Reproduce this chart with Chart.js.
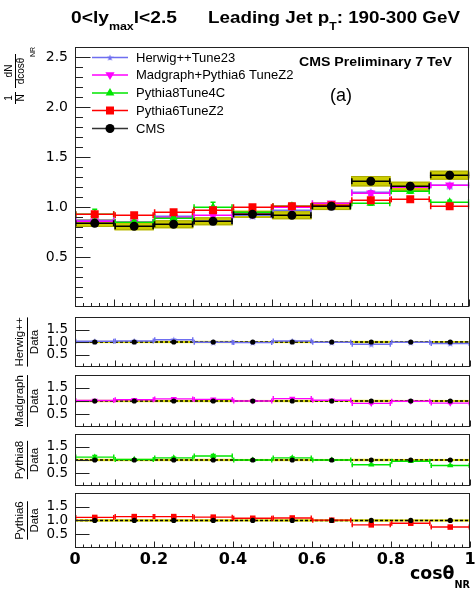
<!DOCTYPE html>
<html><head><meta charset="utf-8">
<script src="https://cdn.jsdelivr.net/npm/chart.js@4/dist/chart.umd.min.js"></script>
<style>
html,body{margin:0;padding:0;background:#fff;}
#wrap{position:relative;width:475px;height:592px;overflow:hidden;background:#fff;}
canvas{position:absolute;left:0;}
</style></head><body>
<div id="wrap">
<canvas id="cMain" width="475" height="313" style="top:0px"></canvas>
<canvas id="cR1" width="475" height="60" style="top:312px"></canvas>
<canvas id="cR2" width="475" height="60" style="top:371px"></canvas>
<canvas id="cR3" width="475" height="60" style="top:430px"></canvas>
<canvas id="cR4" width="475" height="103" style="top:489px"></canvas>
</div>
<script>
// ---------------- data ----------------
const binEdges   = [0, 0.1, 0.2, 0.3, 0.4, 0.5, 0.6, 0.7, 0.8, 0.9, 1.0];
const binCenters = [0.05, 0.15, 0.25, 0.35, 0.45, 0.55, 0.65, 0.75, 0.85, 0.95];

const cmsValues = [0.84, 0.81, 0.83, 0.86, 0.93, 0.92, 1.01, 1.26, 1.21, 1.32];
const cmsStat   = [0.02, 0.02, 0.02, 0.02, 0.02, 0.02, 0.02, 0.03, 0.03, 0.03];
const cmsSyst   = [0.037, 0.04, 0.04, 0.04, 0.035, 0.04, 0.038, 0.052, 0.045, 0.045];

const herwigValues   = [0.87, 0.85, 0.91, 0.86, 0.92, 0.97, 1.01, 1.15, 1.20, 1.22];
const madgraphValues = [0.86, 0.85, 0.90, 0.92, 0.93, 1.00, 1.04, 1.14, 1.20, 1.22];
const pythia8Values  = [0.93, 0.85, 0.89, 1.00, 0.95, 1.01, 1.01, 1.04, 1.16, 1.05];
const pythia6Values  = [0.93, 0.92, 0.95, 0.97, 1.00, 1.01, 1.02, 1.07, 1.08, 1.01];

const herwigErr   = [0.01, 0.01, 0.01, 0.01, 0.01, 0.01, 0.01, 0.015, 0.015, 0.015];
const madgraphErr = [0.01, 0.01, 0.01, 0.015, 0.01, 0.015, 0.01, 0.02, 0.015, 0.015];
const pythia8Err  = [0.05, 0.02, 0.02, 0.05, 0.02, 0.03, 0.02, 0.02, 0.02, 0.02];
const pythia6Err  = [0.01, 0.01, 0.01, 0.01, 0.01, 0.01, 0.01, 0.015, 0.015, 0.015];

const dataRatio      = [1, 1, 1, 1, 1, 1, 1, 1, 1, 1];
const dataRatioBand  = [0.045, 0.045, 0.045, 0.045, 0.04, 0.045, 0.04, 0.045, 0.04, 0.04];
const herwigRatio    = [1.03, 1.04, 1.09, 0.99, 0.98, 1.04, 0.99, 0.91, 0.99, 0.94];
const madgraphRatio  = [1.02, 1.05, 1.08, 1.06, 1.00, 1.09, 1.03, 0.91, 0.99, 0.92];
const pythia8Ratio   = [1.11, 1.02, 1.08, 1.15, 1.00, 1.08, 1.00, 0.82, 0.95, 0.79];
const pythia6Ratio   = [1.11, 1.14, 1.14, 1.12, 1.08, 1.09, 1.01, 0.84, 0.90, 0.76];
const herwigRatioErr   = [0.015, 0.015, 0.015, 0.015, 0.015, 0.015, 0.015, 0.015, 0.015, 0.015];
const madgraphRatioErr = [0.015, 0.015, 0.015, 0.02, 0.015, 0.02, 0.015, 0.02, 0.015, 0.015];
const pythia8RatioErr  = [0.06, 0.025, 0.025, 0.06, 0.025, 0.035, 0.025, 0.025, 0.025, 0.025];
const pythia6RatioErr  = [0.015, 0.015, 0.015, 0.015, 0.015, 0.015, 0.015, 0.015, 0.015, 0.015];

const seriesNames = ['Herwig++Tune23', 'Madgraph+Pythia6 TuneZ2', 'Pythia8Tune4C', 'Pythia6TuneZ2', 'CMS'];
const ratioTitles = [['Herwig++', 'Data'], ['Madgraph', 'Data'], ['Pythia8', 'Data'], ['Pythia6', 'Data']];
const mainYTicks  = [0.5, 1.0, 1.5, 2.0, 2.5];
const ratioYTicks = [0.5, 1.0, 1.5];
const xTickLabels = ['0', '0.2', '0.4', '0.6', '0.8', '1'];

// ---------------- styles ----------------
const COL = { hw: 'rgb(110,110,240)', mg: '#ff00ff', p8: '#00e600', p6: '#ff0000', cms: '#000000' };
const YELLOW = 'rgb(204,204,0)', YELLOW_EDGE = 'rgb(170,170,0)';
const FRAME = '#222';

function starCanvas(color, size) {
  const c = document.createElement('canvas'); c.width = size; c.height = size;
  const g = c.getContext('2d'); g.fillStyle = color; g.beginPath();
  const cx = size / 2, cy = size / 2 + size * 0.06, R = size / 2, r = R * 0.42;
  for (let i = 0; i < 10; i++) {
    const rad = i % 2 ? r : R, ang = -Math.PI / 2 + i * Math.PI / 5;
    const px = cx + rad * Math.cos(ang), py = cy + rad * Math.sin(ang);
    if (i) g.lineTo(px, py); else g.moveTo(px, py);
  }
  g.closePath(); g.fill(); return c;
}
const starBig = starCanvas(COL.hw, 10), starSmall = starCanvas(COL.hw, 7);

function pts(vals) { return binCenters.map((c, i) => ({ x: c, y: vals[i] })); }

function ds(label, vals, errs, color, marker, big) {
  const d = {
    label, data: pts(vals), errY: errs, barColor: color,
    backgroundColor: color, borderColor: color, borderWidth: 0,
    pointHoverRadius: 0, showLine: false
  };
  if (marker === 'star') { d.pointStyle = big ? starBig : starSmall; d.pointRadius = 5; }
  else if (marker === 'circle') { d.pointStyle = 'circle'; d.pointRadius = big ? 4.5 : 2.6; }
  else if (marker === 'rect') { d.pointStyle = 'rect'; d.pointRadius = big ? 5.6 : 3.9; }
  else if (marker === 'tri') { d.pointStyle = 'triangle'; d.pointRadius = big ? 5 : 3.6; }
  else if (marker === 'itri') { d.pointStyle = 'triangle'; d.pointRotation = 180; d.pointRadius = big ? 5.3 : 3.6; }
  return d;
}

// ---------------- drawing helpers ----------------
function line(ctx, x1, y1, x2, y2) { ctx.beginPath(); ctx.moveTo(x1, y1); ctx.lineTo(x2, y2); ctx.stroke(); }

function richText(ctx, parts, x, baseY, targetW) {
  ctx.save();
  let w = 0;
  parts.forEach(p => { ctx.font = p.font; p.w = ctx.measureText(p.t).width; w += p.w; });
  const sx = targetW ? targetW / w : 1;
  ctx.translate(x, baseY); ctx.scale(sx, 1);
  ctx.textAlign = 'left'; ctx.textBaseline = 'alphabetic'; ctx.fillStyle = '#000';
  let cx = 0;
  parts.forEach(p => { ctx.font = p.font; ctx.fillText(p.t, cx, p.dy || 0); cx += p.w; });
  ctx.restore();
}
function rotText(ctx, t, cx, cy, font) {
  ctx.save(); ctx.translate(cx, cy); ctx.rotate(-Math.PI / 2);
  ctx.font = font; ctx.fillStyle = '#000'; ctx.textAlign = 'center'; ctx.textBaseline = 'middle';
  ctx.fillText(t, 0, 0); const w = ctx.measureText(t).width; ctx.restore(); return w;
}
function drawMarker(ctx, kind, x, y, color) {
  ctx.save(); ctx.fillStyle = color; ctx.beginPath();
  if (kind === 'circle') { ctx.arc(x, y, 4.5, 0, Math.PI * 2); ctx.fill(); }
  else if (kind === 'rect') { ctx.fillRect(x - 4, y - 4, 8, 8); }
  else if (kind === 'tri') { ctx.moveTo(x, y - 5); ctx.lineTo(x + 4.4, y + 2.6); ctx.lineTo(x - 4.4, y + 2.6); ctx.closePath(); ctx.fill(); }
  else if (kind === 'itri') { ctx.moveTo(x, y + 5); ctx.lineTo(x + 4.6, y - 2.7); ctx.lineTo(x - 4.6, y - 2.7); ctx.closePath(); ctx.fill(); }
  else if (kind === 'star') { ctx.drawImage(starSmall, x - 3.5, y - 3.5); }
  ctx.restore();
}

// ---------------- panel plugin ----------------
function makePanel(cfg) {
  return {
    id: 'panel' + cfg.name,
    beforeDatasetsDraw(chart) {
      const { ctx, chartArea: a, scales: { x, y } } = chart;
      ctx.save();
      ctx.beginPath(); ctx.rect(a.left, a.top, a.width, a.height); ctx.clip();
      chart.data.datasets.forEach(d => {
        if (!d.sysErr) return;
        d.data.forEach((p, i) => {
          const xl = x.getPixelForValue(binEdges[i]), xr = x.getPixelForValue(binEdges[i + 1]);
          const yt = y.getPixelForValue(p.y + d.sysErr[i]), yb = y.getPixelForValue(p.y - d.sysErr[i]);
          ctx.fillStyle = d.sysFill; ctx.fillRect(xl, yt, xr - xl, yb - yt);
          if (d.sysEdge) { ctx.strokeStyle = d.sysEdge; ctx.lineWidth = 1; ctx.strokeRect(xl + 0.5, yt + 0.5, xr - xl - 1, yb - yt - 1); }
        });
      });
      if (cfg.refLine) {
        const py = y.getPixelForValue(1);
        ctx.strokeStyle = '#000'; ctx.lineWidth = 1.4; ctx.setLineDash([3, 2]);
        line(ctx, a.left, py, a.right, py); ctx.setLineDash([]);
      }
      ctx.restore();
    },
    beforeDatasetDraw(chart, args) {
      const d = chart.data.datasets[args.index];
      if (!d.errY && !d.drawBins) return;
      const { ctx, chartArea: a, scales: { x, y } } = chart;
      ctx.save();
      ctx.beginPath(); ctx.rect(a.left, a.top, a.width, a.height); ctx.clip();
      ctx.strokeStyle = d.barColor; ctx.lineWidth = d.barWidth || 1.5;
      d.data.forEach((p, i) => {
        const xl = x.getPixelForValue(binEdges[i]), xr = x.getPixelForValue(binEdges[i + 1]);
        const px = x.getPixelForValue(p.x), py = y.getPixelForValue(p.y);
        if (d.drawBins !== false) {
          line(ctx, xl, py, xr, py);
          const ch = d.capH || 3;
          line(ctx, xl + 0.75, py - ch, xl + 0.75, py + ch);
          line(ctx, xr - 0.75, py - ch, xr - 0.75, py + ch);
        }
        if (d.errY && d.errY[i] > 0) {
          const yt = y.getPixelForValue(p.y + d.errY[i]), yb = y.getPixelForValue(p.y - d.errY[i]);
          line(ctx, px, yt, px, yb);
          line(ctx, px - 2.5, yt, px + 2.5, yt); line(ctx, px - 2.5, yb, px + 2.5, yb);
        }
      });
      ctx.restore();
    },
    afterDatasetsDraw(chart) {
      const { ctx, chartArea: a, scales: { x, y } } = chart;
      ctx.save(); ctx.strokeStyle = FRAME; ctx.lineWidth = 1;
      const L = Math.round(a.left) + 0.5, R = Math.round(a.right) - 0.5, T = Math.round(a.top) + 0.5, B = Math.round(a.bottom) - 0.5;
      ctx.strokeRect(L, T, R - L, B - T);
      for (let k = 0; k <= 50; k++) {
        const px = Math.round(x.getPixelForValue(k / 50)) + 0.5;
        const len = k % 5 === 0 ? cfg.xMajorLen : cfg.xMinorLen;
        line(ctx, px, B, px, B - len);
      }
      if (cfg.yMinorStep) {
        for (let v = cfg.yMinorStep; v < y.max - 1e-6; v += cfg.yMinorStep) {
          const py = Math.round(y.getPixelForValue(v)) + 0.5;
          const major = Math.abs(v / 0.5 - Math.round(v / 0.5)) < 1e-6;
          line(ctx, L, py, L + (major ? 15 : 7.5), py);
        }
      } else {
        cfg.yTicks.forEach(v => { const py = Math.round(y.getPixelForValue(v)) + 0.5; line(ctx, L, py, L + 14, py); });
      }
      ctx.restore();
    },
    afterDraw(chart) { if (cfg.texts) cfg.texts(chart.ctx, chart); }
  };
}

function yScale(min, max, tickVals, fontSize) {
  return {
    type: 'linear', min, max,
    afterFit(s) { s.width = 75; s.paddingTop = 0; s.paddingBottom = 0; },
    afterBuildTicks(s) { s.ticks = tickVals.map(v => ({ value: v })); },
    grid: { display: false, drawTicks: false }, border: { display: false },
    ticks: { padding: 7, color: '#000', font: { family: 'DejaVu Sans', size: fontSize },
             callback: v => v.toFixed(1) }
  };
}

function makeChart(id, datasets, cfg, padding, showX) {
  const xs = showX ? {
    type: 'linear', min: 0, max: 1,
    afterFit(s) { s.height = 44; s.paddingLeft = 0; s.paddingRight = 0; },
    afterBuildTicks(s) { s.ticks = xTickLabels.map(t => ({ value: parseFloat(t) })); },
    grid: { display: false, drawTicks: false }, border: { display: false },
    ticks: { padding: 2, color: '#000', maxRotation: 0, autoSkip: false,
             font: { family: 'DejaVu Sans', weight: 'bold', size: 16 },
             callback: (v, i) => xTickLabels[i] }
  } : { type: 'linear', min: 0, max: 1, display: false };
  return new Chart(document.getElementById(id), {
    type: 'scatter',
    data: { datasets },
    options: {
      responsive: false, animation: false, devicePixelRatio: 1,
      layout: { padding },
      plugins: { legend: { display: false }, tooltip: { enabled: false } },
      events: [],
      scales: { x: xs, y: cfg.yScale }
    },
    plugins: [makePanel(cfg)]
  });
}

// ---------------- main panel ----------------
const cmsDS = ds(seriesNames[4], cmsValues, cmsStat, COL.cms, 'circle', true);
cmsDS.sysErr = cmsSyst; cmsDS.sysFill = YELLOW; cmsDS.sysEdge = YELLOW_EDGE; cmsDS.barWidth = 1.6;
const mainSets = [
  cmsDS,
  ds(seriesNames[3], pythia6Values, pythia6Err, COL.p6, 'rect', true),
  ds(seriesNames[2], pythia8Values, pythia8Err, COL.p8, 'tri', true),
  ds(seriesNames[1], madgraphValues, madgraphErr, COL.mg, 'itri', true),
  ds(seriesNames[0], herwigValues, herwigErr, COL.hw, 'star', true)
];

const legendRows = [
  { name: seriesNames[0], color: COL.hw, m: 'star', y: 57.5 },
  { name: seriesNames[1], color: COL.mg, m: 'itri', y: 75 },
  { name: seriesNames[2], color: COL.p8, m: 'tri', y: 93 },
  { name: seriesNames[3], color: COL.p6, m: 'rect', y: 110.5 },
  { name: seriesNames[4], color: '#333', m: 'circle', y: 128.5, mc: '#000' }
];

function mainTexts(ctx) {
  // title
  richText(ctx, [
    { t: '0<ly', font: 'bold 17px "Liberation Sans"' },
    { t: 'max', font: 'bold 11px "Liberation Sans"', dy: 7 },
    { t: 'l<2.5', font: 'bold 17px "Liberation Sans"' }
  ], 71, 23, 106);
  richText(ctx, [
    { t: 'Leading Jet p', font: 'bold 17px "Liberation Sans"' },
    { t: 'T', font: 'bold 11px "Liberation Sans"', dy: 7 },
    { t: ': 190-300 GeV', font: 'bold 17px "Liberation Sans"' }
  ], 208, 23, 252);
  // y title
  const f = '10px "Liberation Sans"';
  rotText(ctx, '1', 9, 98, f); rotText(ctx, 'N', 21, 98, f);
  ctx.save(); ctx.strokeStyle = '#000'; ctx.lineWidth = 1;
  line(ctx, 15.5, 92, 15.5, 104);
  line(ctx, 15.5, 54, 15.5, 88);
  ctx.restore();
  rotText(ctx, 'dN', 9, 71, f); rotText(ctx, 'dcos\u03B8', 21, 71, f);
  rotText(ctx, 'NR', 33, 52, '7px "Liberation Sans"');
  // legend
  legendRows.forEach(r => {
    ctx.save(); ctx.strokeStyle = r.color; ctx.lineWidth = 1.6;
    line(ctx, 92, r.y, 128, r.y); ctx.restore();
    drawMarker(ctx, r.m, 110, r.y, r.mc || r.color);
    ctx.save(); ctx.font = '13px "Liberation Sans"'; ctx.fillStyle = '#000';
    ctx.textAlign = 'left'; ctx.textBaseline = 'middle';
    ctx.fillText(r.name, 136, r.y + 0.5); ctx.restore();
  });
  richText(ctx, [{ t: 'CMS Preliminary 7 TeV', font: 'bold 13px "Liberation Sans"' }], 299, 66, 153);
  richText(ctx, [{ t: '(a)', font: '18px "Liberation Sans"' }], 330, 101);
}

makeChart('cMain', mainSets, {
  name: 'main', yScale: yScale(0, 2.6, mainYTicks, 14), yMinorStep: 0.1,
  xMajorLen: 7, xMinorLen: 3.5, texts: mainTexts
}, { left: 0, right: 5, top: 47, bottom: 1 }, false);

// ---------------- ratio panels ----------------
function ratioTexts(idx, extra) {
  return (ctx, chart) => {
    const a = chart.chartArea, cy = (a.top + a.bottom) / 2;
    const w = rotText(ctx, ratioTitles[idx][0], 20, cy, '11.5px "Liberation Sans"');
    rotText(ctx, ratioTitles[idx][1], 35, cy, '11.5px "Liberation Sans"');
    ctx.save(); ctx.strokeStyle = '#000'; ctx.lineWidth = 1;
    line(ctx, 27.5, cy - w / 2, 27.5, cy + w / 2); ctx.restore();
    if (extra) extra(ctx, chart);
  };
}
function xTitle(ctx) {
  richText(ctx, [
    { t: 'cos', font: 'bold 18px "DejaVu Sans"' },
    { t: '\u03B8', font: 'bold 18px "DejaVu Sans"' },
    { t: 'NR', font: 'bold 10px "DejaVu Sans"', dy: 9 }
  ], 410, 90, 60);
}

const ratioDefs = [
  { id: 'cR1', vals: herwigRatio, err: herwigRatioErr, col: COL.hw, m: 'star', name: seriesNames[0] },
  { id: 'cR2', vals: madgraphRatio, err: madgraphRatioErr, col: COL.mg, m: 'itri', name: seriesNames[1] },
  { id: 'cR3', vals: pythia8Ratio, err: pythia8RatioErr, col: COL.p8, m: 'tri', name: seriesNames[2] },
  { id: 'cR4', vals: pythia6Ratio, err: pythia6RatioErr, col: COL.p6, m: 'rect', name: seriesNames[3] }
];
ratioDefs.forEach((r, i) => {
  const dataDS = ds('Data', dataRatio, null, COL.cms, 'circle', false);
  dataDS.drawBins = false; dataDS.sysErr = dataRatioBand; dataDS.sysFill = 'rgb(215,215,0)';
  const modelDS = ds(r.name, r.vals, r.err, r.col, r.m, false);
  modelDS.capH = 2.5; modelDS.barWidth = 1.4;
  const last = i === 3;
  makeChart(r.id, [dataDS, modelDS], {
    name: 'r' + i, yScale: yScale(0, 2, ratioYTicks, 13.5), yTicks: ratioYTicks, refLine: true,
    xMajorLen: 6, xMinorLen: 3, texts: ratioTexts(i, last ? xTitle : null)
  }, { left: 0, right: 5, top: 0, bottom: last ? 0 : 1 }, last);
});
</script>
</body></html>
